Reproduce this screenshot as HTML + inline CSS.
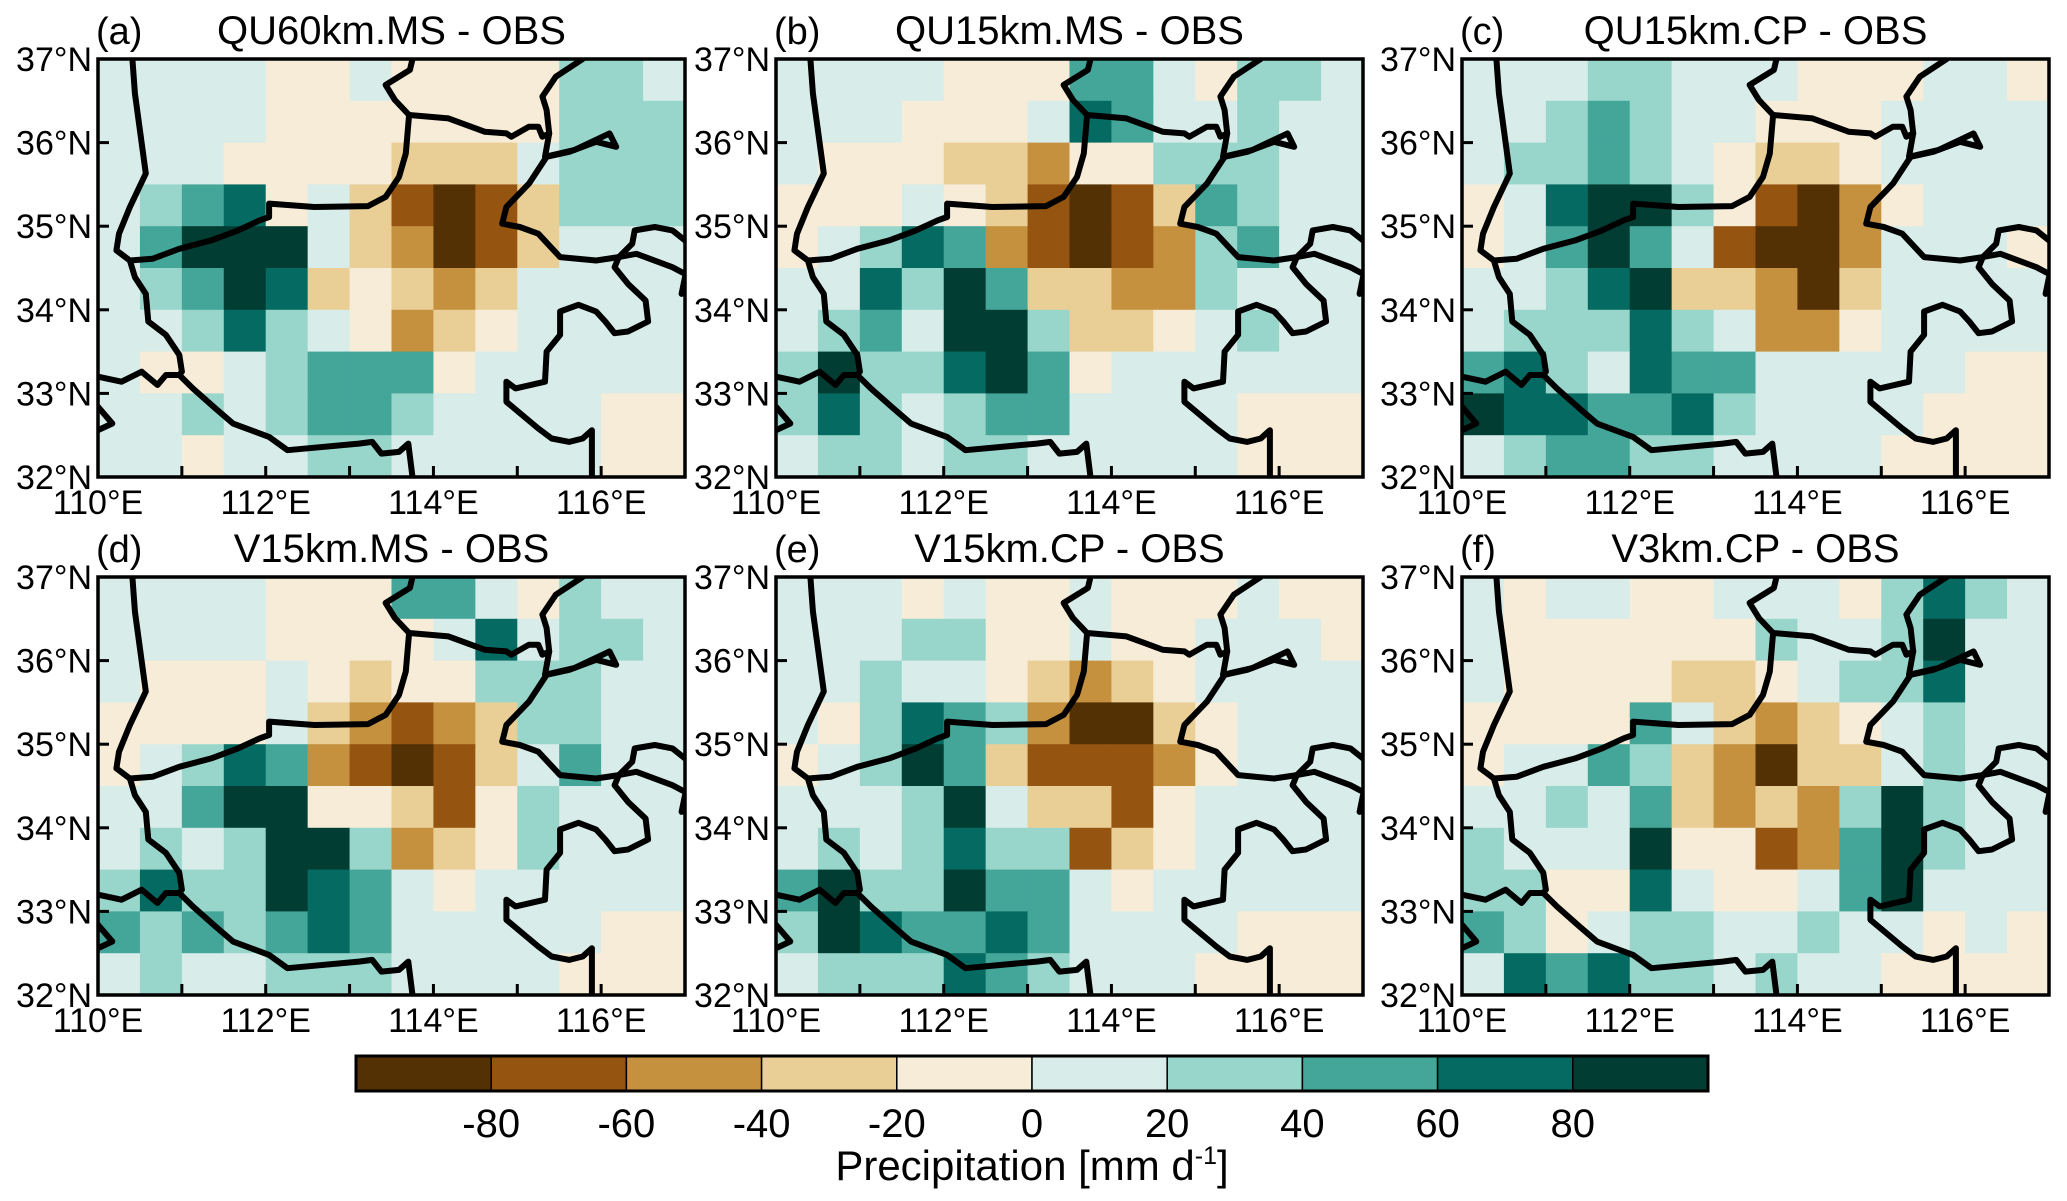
<!DOCTYPE html>
<html><head><meta charset="utf-8">
<style>
html,body{margin:0;padding:0;background:#fff;}
svg{display:block;font-family:"Liberation Sans",Arial,sans-serif;}
</style></head>
<body>
<svg id="fig" width="2067" height="1201" viewBox="0 0 2067 1201" xmlns="http://www.w3.org/2000/svg"></svg>
<script>
// ---- data ----
const panelLetters = ["(a)","(b)","(c)","(d)","(e)","(f)"];
const panelTitles = ["QU60km.MS - OBS","QU15km.MS - OBS","QU15km.CP - OBS","V15km.MS - OBS","V15km.CP - OBS","V3km.CP - OBS"];
const latTicks = [37,36,35,34,33,32];
const lonTicks = [110,112,114,116];
const lonMinor = [111,113,115];
const colorLevels = [-80,-60,-40,-20,0,20,40,60,80];
const colorbarLabels = ["-80","-60","-40","-20","0","20","40","60","80"];
const palette = ["#543005","#955410","#c6913f","#e9cf96","#f6ecd8","#d8ede9","#98d5cb","#44a599","#056b62","#013d32"];
// grid 0.5 deg cells, rows from 37N to 32N, columns 110E to 117E; digits = colour class index
const fieldA = ["55554454444665","55554444444666","55544443335666","56784531013666","57999532013555","56798343235555","55686542345555","54456777455555","55656776555544","55455665555544"];
const fieldB = ["55554447754665","55544458755655","54443324466655","44454310137655","45687210126755","55869733226555","56759963345655","69668974555555","68656775555444","56656655555444"];
const fieldC = ["55566555444554","55676554445555","56676543345555","45899641024555","45797510025554","55689332035555","56668652245555","78658775555544","98877865555444","56776655554444"];
const fieldD = ["55554447754655","55554444585665","54445434466655","44445321236655","45687210135755","55799443146555","56569962346555","68669875455555","76767875555544","56556665555444"];
const fieldE = ["55545445444544","55566445445554","55655432345555","54687620034555","45697311124555","55569533145555","56568661345555","79669775455555","69877875555444","56668765554444"];
const fieldF = ["54554455546865","54444446556955","54444334566855","44447532345655","45576320335655","55657323269655","65559441279655","66448544579555","76456655655454","58786656554444"];
const fields = [fieldA,fieldB,fieldC,fieldD,fieldE,fieldF];
// boundary polylines [lon,lat]
const borders = [
 [[110.41,37],[110.44,36.59],[110.57,35.63],[110.38,35.23],[110.25,34.91],[110.22,34.71],[110.38,34.59],[110.44,34.39],[110.57,34.19],[110.60,33.86],[110.81,33.70],[110.97,33.46],[111.0,33.26],[110.97,33.22],[111.13,33.06],[111.40,32.82],[111.61,32.64],[112.04,32.48],[112.26,32.32],[113.11,32.40],[113.27,32.42],[113.38,32.28],[113.59,32.30],[113.70,32.40],[113.75,32]],
 [[110,33.20],[110.28,33.14],[110.52,33.26],[110.71,33.10],[110.81,33.22],[110.97,33.22]],
 [[110,32.84],[110.17,32.64],[110,32.56]],
 [[110.38,34.59],[110.65,34.61],[110.97,34.73],[111.35,34.83],[111.67,34.95],[111.93,35.07],[112.04,35.11],[112.04,35.27],[112.58,35.23],[113.22,35.24],[113.43,35.35],[113.59,35.59],[113.67,35.87],[113.71,36.33],[113.54,36.51],[113.43,36.69],[113.72,36.87],[113.75,37]],
 [[113.71,36.33],[114.18,36.29],[114.61,36.13],[114.87,36.11],[114.93,36.07],[115.14,36.19],[115.25,36.19],[115.30,36.07],[115.38,36.11],[115.35,36.39],[115.30,36.55],[115.46,36.79],[115.78,37]],
 [[115.38,36.11],[115.33,35.83],[115.68,35.91],[116.10,36.11],[116.18,35.95],[115.94,36.01],[115.62,35.89],[115.35,35.83],[115.14,35.51],[114.87,35.23],[114.82,35.03],[115.03,34.99],[115.25,34.91],[115.51,34.63],[115.94,34.59],[116.21,34.63],[116.42,34.67],[116.85,34.51],[117,34.43]],
 [[116.21,34.63],[116.37,34.79],[116.40,34.95],[116.64,34.99],[116.85,34.95],[117,34.83]],
 [[117,34.39],[116.96,34.19]],
 [[116.21,34.63],[116.16,34.51],[116.32,34.31],[116.53,34.11],[116.56,33.86],[116.32,33.74],[116.16,33.72],[116.05,33.86],[115.94,33.98],[115.73,34.06],[115.51,33.98],[115.51,33.70],[115.35,33.50],[115.33,33.14],[114.98,33.06],[114.87,33.14],[114.87,32.90],[115.25,32.58],[115.41,32.46],[115.62,32.42],[115.78,32.46],[115.89,32.56],[115.89,32]]
];
// ---- layout ----
const NS="http://www.w3.org/2000/svg";
const svg=document.getElementById('fig');
const colX=[98,776,1462], rowY=[59,577], PW=587, PH=418;
function mk(tag,attrs,parent){const e=document.createElementNS(NS,tag);for(const k in attrs)e.setAttribute(k,attrs[k]);(parent||svg).appendChild(e);return e;}
fields.forEach((field,p)=>{
  const x0=colX[p%3], y0=rowY[Math.floor(p/3)];
  const xs=lon=>x0+(lon-110)/7*PW;
  const ys=lat=>y0+(37-lat)/5*PH;
  const g=mk('g',{});
  
  
  const clipId='clip'+p;
  const cp=mk('clipPath',{id:clipId},g);
  mk('rect',{x:x0,y:y0,width:PW,height:PH},cp);
  const cells=mk('g',{'clip-path':'url(#'+clipId+')'},g);
  
  
  const nr=field.length, nc=field[0].length;
  field.forEach((row,r)=>{
    for(let c=0;c<nc;c++){
      const lon0=110+c*7/nc, lat0=37-r*5/nr;
      const rc=mk('rect',{x:xs(lon0),y:ys(lat0),width:xs(lon0+7/nc)-xs(lon0)+0.6,height:ys(lat0-5/nr)-ys(lat0)+0.6,fill:palette[+row[c]]},cells);
      
      
    }
  });
  const bg=mk('g',{'clip-path':'url(#'+clipId+')',fill:'none',stroke:'#000','stroke-width':6,'stroke-linejoin':'round','stroke-linecap':'round'},g);
  
  
  borders.forEach(line=>{
    const pl=mk('polyline',{points:line.map(pt=>xs(pt[0]).toFixed(1)+','+ys(pt[1]).toFixed(1)).join(' ')},bg);
    
    
  });
  const fr=mk('rect',{x:x0,y:y0,width:PW,height:PH,fill:'none',stroke:'#000','stroke-width':3.5},g);
  
  
  latTicks.forEach(lat=>{
    mk('line',{x1:x0,x2:x0+11,y1:ys(lat),y2:ys(lat),stroke:'#000','stroke-width':3},g);
    const t=mk('text',{x:x0-6,y:ys(lat)+12,'font-size':34,'text-anchor':'end'},g);
    t.textContent=lat+'°N';
    
    
  });
  lonTicks.concat(lonMinor).forEach(lon=>{
    mk('line',{x1:xs(lon),x2:xs(lon),y1:y0+PH,y2:y0+PH-11,stroke:'#000','stroke-width':3},g);
  });
  lonTicks.forEach(lon=>{
    const t=mk('text',{x:xs(lon),y:y0+PH+37,'font-size':34,'text-anchor':'middle'},g);
    t.textContent=lon+'°E';
    
    
  });
  const lt=mk('text',{x:x0-2,y:y0-15,'font-size':38},g);
  lt.textContent=panelLetters[p];
  
  
  const tt=mk('text',{x:x0+PW/2,y:y0-15,'font-size':40,'text-anchor':'middle'},g);
  tt.textContent=panelTitles[p];
  
  
});
// colorbar
const cbX=356, cbW=1352, cbY=1056, cbH=35;
const cb=mk('g',{});


const nb=palette.length;
palette.forEach((col,i)=>{
  const r=mk('rect',{x:cbX+i*cbW/nb,y:cbY,width:cbW/nb,height:cbH,fill:col,stroke:'#000','stroke-width':1.5},cb);
  
  
});
mk('rect',{x:cbX,y:cbY,width:cbW,height:cbH,fill:'none',stroke:'#000','stroke-width':3},cb);
colorLevels.forEach((lv,i)=>{
  const x=cbX+(lv+100)/200*cbW;
  const t=mk('text',{x:x,y:cbY+cbH+46,'font-size':40,'text-anchor':'middle'},cb);
  t.textContent=colorbarLabels[i];
  
  
});
const ct=mk('text',{x:1032,y:1180,'font-size':42,'text-anchor':'middle'},cb);
ct.innerHTML='Precipitation [mm d<tspan dy="-16" font-size="25">-1</tspan><tspan dy="16">]</tspan>';


</script>
</body></html>
